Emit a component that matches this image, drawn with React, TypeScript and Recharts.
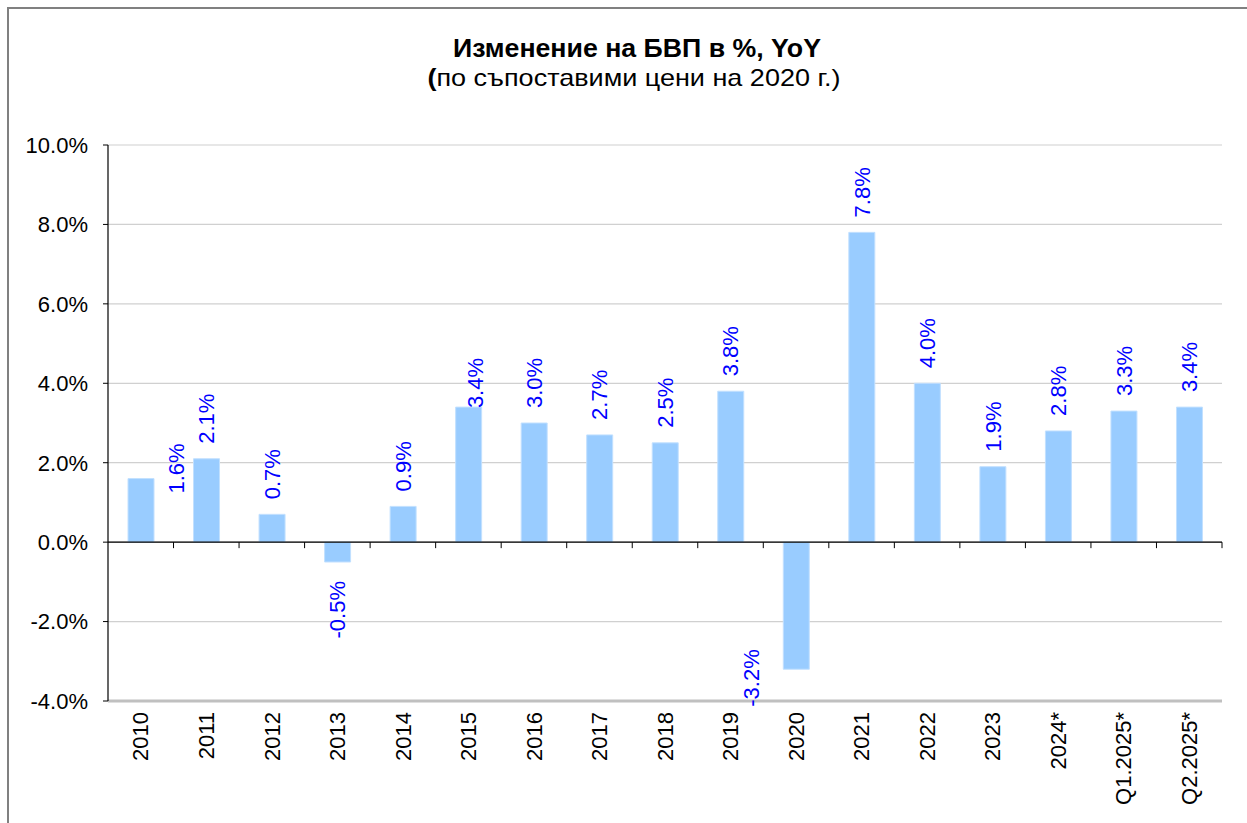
import { Bar, BarChart, CartesianGrid, LabelList, ReferenceLine, XAxis, YAxis } from "recharts"

const categories = ["2010", "2011", "2012", "2013", "2014", "2015", "2016", "2017", "2018", "2019", "2020", "2021", "2022", "2023", "2024*", "Q1.2025*", "Q2.2025*"]
const gdpGrowth = [1.6, 2.1, 0.7, -0.5, 0.9, 3.4, 3.0, 2.7, 2.5, 3.8, -3.2, 7.8, 4.0, 1.9, 2.8, 3.3, 3.4]
const yTicks = [-4, -2, 0, 2, 4, 6, 8, 10]

// Excel moved a few labels by hand; keep those nudges (dx, dy) apart from the data
const labelNudge: Record<string, [number, number]> = {
  "2010": [35, 30],
  "2015": [7, 16],
  "2020": [-45, -39],
}

const data = categories.map((label, i) => ({ label, value: gdpGrowth[i] }))

const FONT = "'Liberation Sans', Arial, sans-serif"
const pct = (v: number) => `${v.toFixed(1)}%`

function CategoryTick({ x, y, payload }: any) {
  return (
    <text
      x={x}
      y={y + 11}
      transform={`rotate(-90, ${x}, ${y + 11})`}
      textAnchor="end"
      dy="0.35em"
      fontSize={22}
      fontFamily={FONT}
      fill="#000"
    >
      {payload.value}
    </text>
  )
}

function ValueLabel({ x, y, width, height, value, index }: any) {
  const top = Math.min(y, y + height)
  const bottom = Math.max(y, y + height)
  const [dx, dy] = labelNudge[categories[index]] ?? [0, 0]
  const cx = x + width / 2 + dx
  const ly = (value >= 0 ? top - 15 : bottom + 19) + dy
  return (
    <text
      x={cx}
      y={ly}
      transform={`rotate(-90, ${cx}, ${ly})`}
      textAnchor={value >= 0 ? "start" : "end"}
      dy="0.35em"
      fontSize={22}
      fontFamily={FONT}
      fill="#0000ff"
    >
      {pct(value)}
    </text>
  )
}

// zero line with the category-boundary tick marks hanging below it
function ZeroLine(props: any) {
  const { x1, y1, x2 } = props
  const n = categories.length
  const step = (x2 - x1) / n
  return (
    <g>
      <line x1={x1} y1={y1} x2={x2} y2={y1} stroke="#000" strokeWidth={1.2} />
      {categories.map((c, i) => (
        <line key={c} x1={x1 + step * (i + 1)} y1={y1} x2={x1 + step * (i + 1)} y2={y1 + 6} stroke="#000" strokeWidth={1} />
      ))}
    </g>
  )
}

export default function App() {
  return (
    <div style={{ position: "fixed", left: 0, top: 0, width: 1247, height: 823, overflow: "hidden", background: "#fff", fontFamily: FONT }}>
      <div
        style={{
          position: "absolute",
          left: 7,
          top: 7,
          width: 1260,
          height: 840,
          borderTop: "2px solid #808080",
          borderLeft: "2px solid #808080",
        }}
      />
      <svg width={1247} height={110} style={{ position: "absolute", left: 0, top: 0 }}>
        <text x={637} y={57} textAnchor="middle" fontSize={25} fontWeight="bold" fontFamily={FONT} fill="#000" textLength={368} lengthAdjust="spacingAndGlyphs">
          Изменение на БВП в %, YoY
        </text>
        <text x={634} y={86} textAnchor="middle" fontSize={24} fontFamily={FONT} fill="#000" textLength={413} lengthAdjust="spacingAndGlyphs">
          <tspan fontWeight="bold">(</tspan>по съпоставими цени на 2020 г.)
        </text>
      </svg>
      <div style={{ position: "absolute", left: 0, top: 0 }}>
        <BarChart width={1247} height={823} data={data} margin={{ top: 145, right: 25, bottom: 12, left: 48 }}>
          <CartesianGrid vertical={false} stroke="#d0d0d0" strokeWidth={1.2} />
          <XAxis
            dataKey="label"
            interval={0}
            height={110}
            axisLine={{ stroke: "#c0c0c0", strokeWidth: 3 }}
            tickLine={false}
            tickSize={0}
            tickMargin={0}
            tick={<CategoryTick />}
          />
          <XAxis xAxisId="top" orientation="top" dataKey="label" height={0} tick={false} tickLine={false} axisLine={{ stroke: "#c0c0c0", strokeWidth: 3 }} />
          <YAxis
            domain={[-4, 10]}
            ticks={yTicks}
            interval={0}
            width={60}
            tickFormatter={pct}
            tickSize={5}
            tickMargin={15}
            axisLine={{ stroke: "#000", strokeWidth: 1.2 }}
            tickLine={{ stroke: "#000" }}
            tick={{ fill: "#000", fontSize: 22, fontFamily: FONT }}
          />
          <YAxis yAxisId="right" orientation="right" domain={[-4, 10]} width={0} tick={false} tickLine={false} axisLine={{ stroke: "#c0c0c0", strokeWidth: 3 }} />
          <Bar dataKey="value" fill="#99ccff" stroke="#c2e0ff" strokeWidth={1} barSize={26} isAnimationActive={false}>
            <LabelList dataKey="value" content={<ValueLabel />} />
          </Bar>
          <ReferenceLine y={0} shape={<ZeroLine />} />
        </BarChart>
      </div>
    </div>
  )
}
